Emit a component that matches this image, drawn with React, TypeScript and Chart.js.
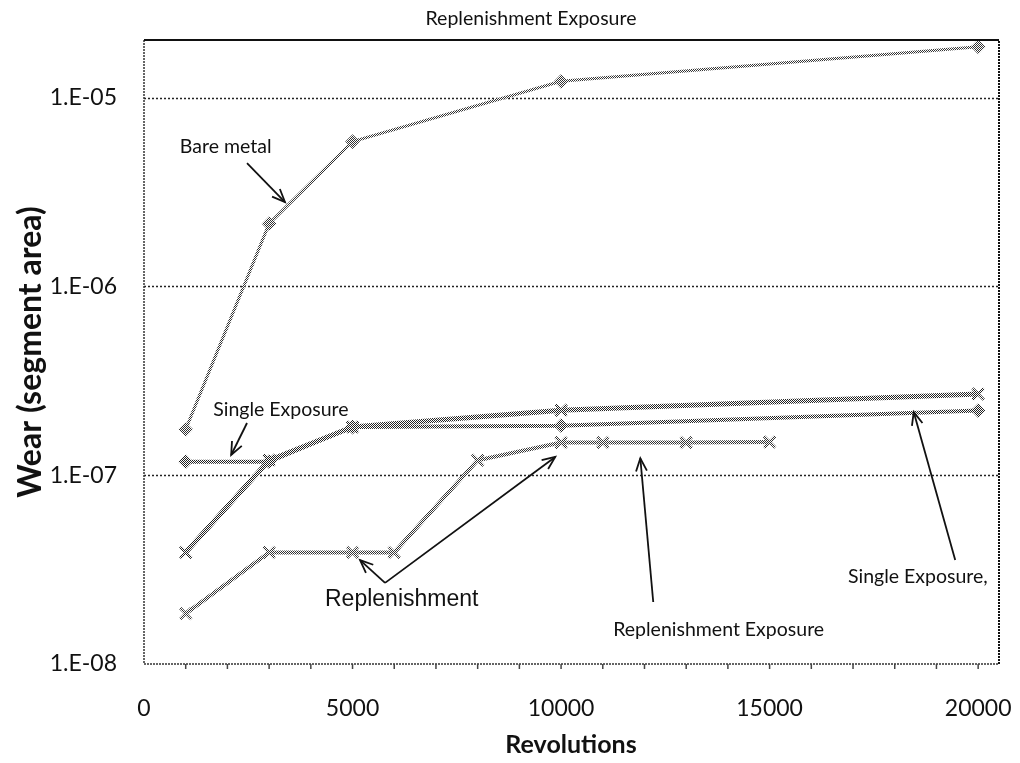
import React, { useEffect, useRef } from "react";
import { Chart, registerables } from "chart.js";

Chart.register(...registerables);

// ---- data ----
const bareRevs = [1000, 3000, 5000, 10000, 20000];
const bareWear = [1.75e-7, 2.15e-6, 5.85e-6, 1.22e-5, 1.86e-5];

const singleRevs = [1000, 3000, 5000, 10000, 20000];
const singleWear = [1.18e-7, 1.18e-7, 1.8e-7, 1.83e-7, 2.2e-7];

const singleBRevs = [1000, 3000, 5000, 10000, 20000];
const singleBWear = [3.9e-8, 1.2e-7, 1.8e-7, 2.21e-7, 2.69e-7];

const replRevs = [1000, 3000, 5000, 6000, 8000, 10000, 11000, 13000, 15000];
const replWear = [1.85e-8, 3.9e-8, 3.9e-8, 3.9e-8, 1.2e-7, 1.49e-7, 1.49e-7, 1.49e-7, 1.5e-7];

const yTickValues = [1e-8, 1e-7, 1e-6, 1e-5];
const xTickValues = [0, 5000, 10000, 15000, 20000];
const xMinorStep = 1000;

const chartTitle = "Replenishment Exposure";
const yTitle = "Wear (segment area)";
const xTitle = "Revolutions";

// annotation labels (data coordinates: revolutions, wear)
const labelTexts = ["Bare metal", "Single Exposure", "Replenishment", "Replenishment Exposure", "Single Exposure,"];
const labelX = [860, 1660, 4340, 11250, 16880];
const labelY = [5.09e-6, 2.06e-7, 2.03e-8, 1.41e-8, 2.69e-8];
const labelBig = [false, false, true, false, false];

// arrows: from (x0,y0) to (x1,y1) with head at the end
const arrowX0 = [2470, 2470, 5780, 5780, 12210, 19450];
const arrowY0 = [4.5e-6, 1.89e-7, 2.69e-8, 2.69e-8, 2.13e-8, 3.56e-8];
const arrowX1 = [3380, 2090, 5180, 9860, 11900, 18455];
const arrowY1 = [2.8e-6, 1.28e-7, 3.55e-8, 1.25e-7, 1.23e-7, 2.16e-7];

function makePattern(dark: string): CanvasPattern | string {
  const c = document.createElement("canvas");
  c.width = 2;
  c.height = 2;
  const g = c.getContext("2d");
  if (!g) return dark;
  g.fillStyle = "#ffffff";
  g.fillRect(0, 0, 2, 2);
  g.fillStyle = dark;
  g.fillRect(0, 0, 1, 1);
  g.fillRect(1, 1, 1, 1);
  const p = g.createPattern(c, "repeat");
  return p || dark;
}

function fmtTick(v: number): string {
  const e = Math.round(Math.log10(v));
  return "1.E" + (e < 0 ? "-" : "+") + String(Math.abs(e)).padStart(2, "0");
}

const decorPlugin = {
  id: "decor",
  afterDatasetsDraw(chart: any) {
    const ctx: CanvasRenderingContext2D = chart.ctx;
    const { left, right, top, bottom } = chart.chartArea;
    const xs = chart.scales.x;
    const ys = chart.scales.y;
    ctx.save();

    // plot border
    ctx.strokeStyle = "#333";
    ctx.lineWidth = 1.5;
    ctx.setLineDash([2, 1]);
    ctx.beginPath();
    ctx.moveTo(left, top);
    ctx.lineTo(left, bottom);
    ctx.lineTo(right, bottom);
    ctx.stroke();
    ctx.strokeStyle = "#111";
    ctx.lineWidth = 2;
    ctx.beginPath();
    ctx.moveTo(right, bottom);
    ctx.lineTo(right, top);
    ctx.stroke();
    ctx.setLineDash([]);
    ctx.beginPath();
    ctx.moveTo(left, top);
    ctx.lineTo(right, top);
    ctx.stroke();

    // minor x tick marks
    ctx.strokeStyle = "#444";
    ctx.lineWidth = 1.5;
    for (let v = xMinorStep; v <= 20000; v += xMinorStep) {
      const px = xs.getPixelForValue(v);
      ctx.beginPath();
      ctx.moveTo(px, bottom);
      ctx.lineTo(px, bottom + 5);
      ctx.stroke();
    }

    // annotation labels
    ctx.fillStyle = "#111";
    ctx.textBaseline = "alphabetic";
    ctx.textAlign = "left";
    labelTexts.forEach((t, i) => {
      ctx.font = labelBig[i] ? "23px 'Liberation Sans', Arial, sans-serif" : "19.5px Lato, sans-serif";
      ctx.fillText(t, xs.getPixelForValue(labelX[i]), ys.getPixelForValue(labelY[i]));
    });

    // arrows
    ctx.strokeStyle = "#111";
    ctx.lineWidth = 1.8;
    for (let i = 0; i < arrowX0.length; i++) {
      const x0 = xs.getPixelForValue(arrowX0[i]);
      const y0 = ys.getPixelForValue(arrowY0[i]);
      const x1 = xs.getPixelForValue(arrowX1[i]);
      const y1 = ys.getPixelForValue(arrowY1[i]);
      ctx.beginPath();
      ctx.moveTo(x0, y0);
      ctx.lineTo(x1, y1);
      ctx.stroke();
      const ang = Math.atan2(y1 - y0, x1 - x0);
      const hl = 14;
      const ha = 0.4;
      ctx.beginPath();
      ctx.moveTo(x1 - hl * Math.cos(ang - ha), y1 - hl * Math.sin(ang - ha));
      ctx.lineTo(x1, y1);
      ctx.lineTo(x1 - hl * Math.cos(ang + ha), y1 - hl * Math.sin(ang + ha));
      ctx.stroke();
    }

    // titles
    ctx.textAlign = "center";
    ctx.textBaseline = "middle";
    ctx.font = "19.5px Lato, sans-serif";
    ctx.fillText(chartTitle, 531, 19);
    ctx.font = "bold 25px Lato, sans-serif";
    ctx.fillText(xTitle, 571, 745);
    ctx.save();
    ctx.translate(31, (top + bottom) / 2);
    ctx.rotate(-Math.PI / 2);
    ctx.font = "bold 32px Lato, sans-serif";
    ctx.fillText(yTitle, 0, 0);
    ctx.restore();

    ctx.restore();
  },
  beforeDatasetsDraw(chart: any) {
    const ctx: CanvasRenderingContext2D = chart.ctx;
    const { left, right } = chart.chartArea;
    const ys = chart.scales.y;
    ctx.save();
    ctx.strokeStyle = "#222";
    ctx.lineWidth = 1.5;
    ctx.setLineDash([2, 2]);
    yTickValues.slice(1).forEach((v) => {
      const py = Math.round(ys.getPixelForValue(v)) + 0.5;
      ctx.beginPath();
      ctx.moveTo(left, py);
      ctx.lineTo(right, py);
      ctx.stroke();
    });
    ctx.restore();
  },
};

export default function App() {
  const ref = useRef<HTMLCanvasElement | null>(null);
  useEffect(() => {
    if (!ref.current) return;
    document.body.style.margin = "0";
    const pDark = makePattern("#222");
    const pMid = makePattern("#333");
    const toPts = (xs: number[], ys: number[]) => xs.map((x, i) => ({ x, y: ys[i] }));
    const chart = new Chart(ref.current, {
      type: "line",
      data: {
        datasets: [
          {
            label: "Bare metal",
            data: toPts(bareRevs, bareWear),
            borderColor: pMid as any,
            backgroundColor: pMid as any,
            borderWidth: 3,
            pointStyle: "rectRot",
            pointRadius: 6,
            pointBorderWidth: 2,
          },
          {
            label: "Single Exposure",
            data: toPts(singleRevs, singleWear),
            borderColor: pDark as any,
            backgroundColor: pDark as any,
            borderWidth: 4,
            pointStyle: "rectRot",
            pointRadius: 6,
            pointBorderWidth: 2,
          },
          {
            label: "Single Exposure B",
            data: toPts(singleBRevs, singleBWear),
            borderColor: pDark as any,
            backgroundColor: pDark as any,
            borderWidth: 5,
            pointStyle: "crossRot",
            pointRadius: 8,
            pointBorderWidth: 3,
          },
          {
            label: "Replenishment",
            data: toPts(replRevs, replWear),
            borderColor: pMid as any,
            backgroundColor: pMid as any,
            borderWidth: 4,
            pointStyle: "crossRot",
            pointRadius: 8,
            pointBorderWidth: 3,
          },
        ],
      },
      options: {
        animation: false,
        responsive: false,
        devicePixelRatio: 1,
        layout: { padding: { top: 40, right: 21, left: 0, bottom: 0 } },
        plugins: { legend: { display: false }, title: { display: false }, tooltip: { enabled: false } },
        scales: {
          x: {
            type: "linear",
            min: 0,
            max: 20500,
            grid: { display: false, drawTicks: false },
            border: { display: false },
            afterBuildTicks: (s: any) => {
              s.ticks = xTickValues.map((v) => ({ value: v }));
            },
            afterFit: (s: any) => {
              s.height = 99;
              s.paddingLeft = 0;
              s.paddingRight = 0;
            },
            ticks: {
              autoSkip: false,
              maxRotation: 0,
              padding: 31,
              color: "#111",
              font: { family: "Lato", size: 23 },
              callback: (v: any) => String(v),
            },
          },
          y: {
            type: "logarithmic",
            min: 1e-8,
            max: 2.02e-5,
            grid: { display: false, drawTicks: false },
            border: { display: false },
            afterBuildTicks: (s: any) => {
              s.ticks = yTickValues.map((v) => ({ value: v }));
            },
            afterFit: (s: any) => {
              s.width = 144;
              s.paddingTop = 0;
              s.paddingBottom = 0;
            },
            ticks: {
              padding: 27,
              color: "#111",
              font: { family: "Lato", size: 23 },
              callback: (v: any) => fmtTick(Number(v)),
            },
          },
        },
      } as any,
      plugins: [decorPlugin as any],
    });
    return () => chart.destroy();
  }, []);
  return (
    <div style={{ position: "absolute", left: 0, top: 0, width: 1020, height: 763, background: "#fff" }}>
      <canvas ref={ref} width={1020} height={763} />
    </div>
  );
}
